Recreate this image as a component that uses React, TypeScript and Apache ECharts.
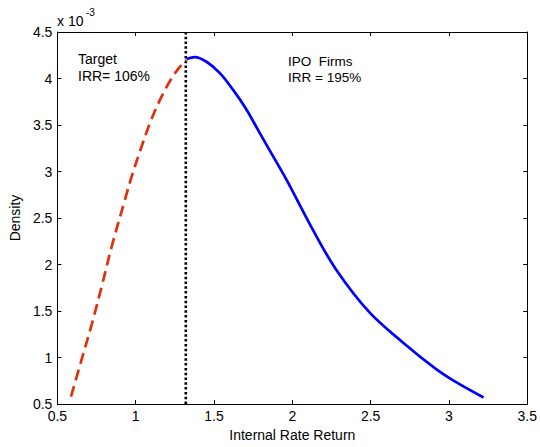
import React, { useEffect, useRef } from "react";
import * as echarts from "echarts";

// Target firms density (dashed red), x = IRR, y = density (x 10^-3)
const targetX = [0.587, 0.657, 0.72, 0.784, 0.848, 0.932, 0.975, 1.028, 1.091, 1.155, 1.218, 1.27, 1.325];
const targetY = [0.58, 0.99, 1.36, 1.77, 2.2, 2.7, 2.95, 3.22, 3.52, 3.77, 3.97, 4.1, 4.2];

// IPO firms density (solid blue)
const ipoX = [1.325, 1.377, 1.452, 1.536, 1.621, 1.706, 1.79, 1.875, 1.96, 2.129, 2.278, 2.49, 2.7, 2.914, 3.04, 3.221];
const ipoY = [4.21, 4.23, 4.18, 4.06, 3.88, 3.67, 3.42, 3.17, 2.92, 2.38, 1.95, 1.49, 1.17, 0.88, 0.74, 0.57];

// Vertical dotted line location (boundary)
const splitX = 1.32;

const xTicks = [0.5, 1, 1.5, 2, 2.5, 3, 3.5];
const yTicks = [0.5, 1, 1.5, 2, 2.5, 3, 3.5, 4, 4.5];

const FONT = "'Liberation Sans', Arial, sans-serif";
const FS = 14;

export default function App() {
  const ref = useRef<HTMLDivElement>(null);
  useEffect(() => {
    if (!ref.current) return;
    const chart = echarts.init(ref.current, null, { renderer: "svg" });
    const xMin = xTicks[0];
    const xMax = xTicks[xTicks.length - 1];
    const yMin = yTicks[0];
    const yMax = yTicks[yTicks.length - 1];
    const axisCommon = {
      type: "value" as const,
      interval: 0.5,
      axisLine: { show: true, lineStyle: { color: "#000", width: 1 } },
      axisTick: { show: true, inside: true, length: 4, lineStyle: { color: "#000" } },
      splitLine: { show: false },
    };
    const fmt = (v: number) => String(v);
    chart.setOption({
      animation: false,
      backgroundColor: "#fff",
      grid: { left: 57, top: 32, right: 11, bottom: 41, containLabel: false },
      xAxis: [
        {
          ...axisCommon,
          min: xMin,
          max: xMax,
          position: "bottom",
          name: "Internal Rate Return",
          nameLocation: "middle",
          nameGap: 24,
          nameTextStyle: { color: "#000", fontSize: FS, fontFamily: FONT },
          axisLabel: { color: "#000", fontSize: FS, fontFamily: FONT, margin: 5, formatter: fmt },
        },
        {
          ...axisCommon,
          min: xMin,
          max: xMax,
          position: "top",
          axisLabel: { show: false },
        },
      ],
      yAxis: [
        {
          ...axisCommon,
          min: yMin,
          max: yMax,
          position: "left",
          name: "Density",
          nameLocation: "middle",
          nameGap: 33,
          nameTextStyle: { color: "#000", fontSize: FS, fontFamily: FONT },
          axisLabel: { color: "#000", fontSize: FS, fontFamily: FONT, margin: 5, formatter: fmt },
        },
        {
          ...axisCommon,
          min: yMin,
          max: yMax,
          position: "right",
          axisLabel: { show: false },
        },
      ],
      series: [
        {
          type: "line",
          data: targetX.map((x, i) => [x, targetY[i]]),
          smooth: 0.35,
          showSymbol: false,
          lineStyle: { color: "#e0300c", width: 2.7, type: [11, 6] },
          z: 3,
        },
        {
          type: "line",
          data: ipoX.map((x, i) => [x, ipoY[i]]),
          smooth: 0.35,
          showSymbol: false,
          lineStyle: { color: "#0000ff", width: 2.7 },
          z: 3,
        },
        {
          type: "line",
          data: [
            [splitX, yMin],
            [splitX, yMax],
          ],
          showSymbol: false,
          lineStyle: { color: "#000", width: 2.6, type: [2.5, 2.3] },
          z: 2,
        },
      ],
      graphic: [
        {
          type: "text",
          left: 57,
          top: 14,
          style: { text: "x 10", fontSize: FS, fontFamily: FONT, fill: "#000" },
        },
        {
          type: "text",
          left: 86,
          top: 7,
          style: { text: "-3", fontSize: 10, fontFamily: FONT, fill: "#000" },
        },
        {
          type: "text",
          left: 78,
          top: 50,
          style: { text: "Target\nIRR= 106%", fontSize: FS, lineHeight: 17, fontFamily: FONT, fill: "#000" },
        },
        {
          type: "text",
          left: 288,
          top: 53,
          style: { text: "IPO  Firms\nIRR = 195%", fontSize: 13.5, lineHeight: 16, fontFamily: FONT, fill: "#000" },
        },
      ],
    });
    return () => chart.dispose();
  }, []);
  return <div ref={ref} style={{ width: 540, height: 447, position: "absolute", left: 0, top: 0 }} />;
}
